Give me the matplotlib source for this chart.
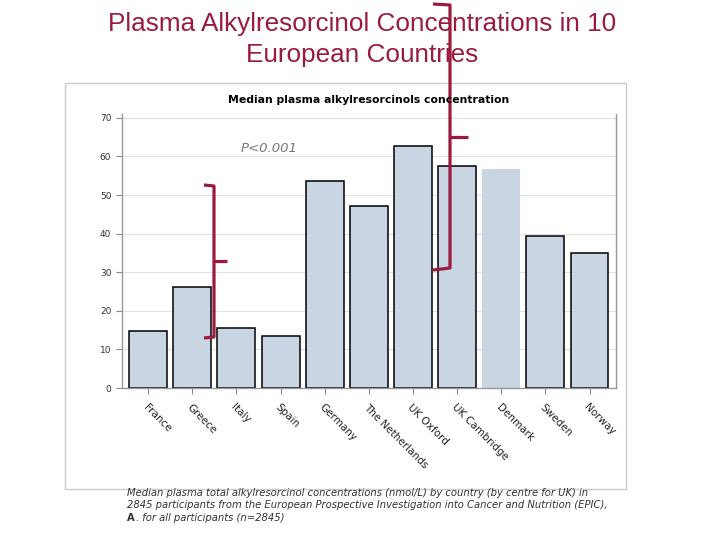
import matplotlib
matplotlib.use('Agg')
import matplotlib.pyplot as plt
from matplotlib.lines import Line2D
from matplotlib.patches import Rectangle


countries = ['France', 'Greece', 'Italy', 'Spain', 'Germany', 'The Netherlands',
             'UK Oxford', 'UK Cambridge', 'Denmark', 'Sweden', 'Norway']
median_ar = [14.8, 26.2, 15.5, 13.5, 53.6, 47.2, 62.7, 57.5, 56.8, 39.5, 35.0]
yticks = [0, 10, 20, 30, 40, 50, 60, 70]

W, H = 720, 540
red = '#9B1B3F'
bar_col = '#C9D5E3'

fig = plt.figure(figsize=(7.2, 5.4), dpi=100)


def px(x, y):
    # pixel coords (top-left origin) -> figure fraction
    return x / W, 1 - y / H


# light box around the chart image
x0, y0 = px(65, 489)
fig.add_artist(Rectangle((x0, y0), (626 - 65) / W, (489 - 83) / H,
                         transform=fig.transFigure, fill=False,
                         edgecolor='#CCCCCC', lw=1))

ax = fig.add_axes([121.7 / W, 1 - 388 / H, (616 - 121.7) / W, (388 - 114) / H])
edges = ['black'] * len(countries)
edges[8] = 'none'
ax.bar(range(len(countries)), median_ar, width=0.86, color=bar_col,
       edgecolor=edges, linewidth=1.1, zorder=2)
ax.set_xlim(-0.6, len(countries) - 0.4)
ax.set_ylim(0, 71)
ax.set_yticks(yticks)
ax.set_yticklabels([str(t) for t in yticks], fontsize=6.5, color='#333333')
ax.set_xticks(range(len(countries)))
ax.set_xticklabels(countries, rotation=-45, ha='left', va='top',
                   rotation_mode='anchor', fontsize=7.5, color='#222222')
ax.tick_params(axis='both', color='#888888', length=4, width=0.8)
ax.tick_params(axis='x', pad=6)
ax.grid(axis='y', color='#E2E2E2', lw=0.8, zorder=0)
ax.set_axisbelow(True)
for s in ['left', 'bottom', 'right']:
    ax.spines[s].set_color('#999999')
    ax.spines[s].set_linewidth(1)
ax.spines['top'].set_visible(False)

ax.text(2.1, 62, 'P<0.001', fontsize=9.5, style='italic', color='#777777',
        fontweight='light', va='center')

fig.text(369 / W, 1 - 100 / H, 'Median plasma alkylresorcinols concentration',
         ha='center', va='center', fontsize=7.8, fontweight='bold')

fig.text(362 / W, 1 - 39.5 / H,
         'Plasma Alkylresorcinol Concentrations in 10\nEuropean Countries',
         ha='center', va='center', fontsize=18.8, color=red,
         family='Liberation Sans', linespacing=1.38)

fig.text(127 / W, 1 - 488 / H,
         'Median plasma total alkylresorcinol concentrations (nmol/L) by country (by centre for UK) in\n'
         '2845 participants from the European Prospective Investigation into Cancer and Nutrition (EPIC),',
         ha='left', va='top', fontsize=7.2, style='italic', color='#333333',
         linespacing=1.3)
fig.text(127 / W, 1 - 513 / H, 'A', ha='left', va='top', fontsize=7.2,
         fontweight='bold', color='#333333')
fig.text(136 / W, 1 - 513 / H, '. for all participants (n=2845)', ha='left',
         va='top', fontsize=7.2, style='italic', color='#333333')


# hand-drawn red brackets
def stroke(pts):
    xs, ys = zip(*[px(x, y) for x, y in pts])
    fig.add_artist(Line2D(xs, ys, transform=fig.transFigure, color=red,
                          lw=2.3, solid_capstyle='butt', solid_joinstyle='round'))


stroke([(204, 185), (214, 186), (214, 337), (204, 338)])
stroke([(214, 261), (227, 261)])
stroke([(433, 4), (450, 5), (450, 268), (433, 270)])
stroke([(450, 137), (468, 137)])

fig.savefig('out.png', dpi=100)
